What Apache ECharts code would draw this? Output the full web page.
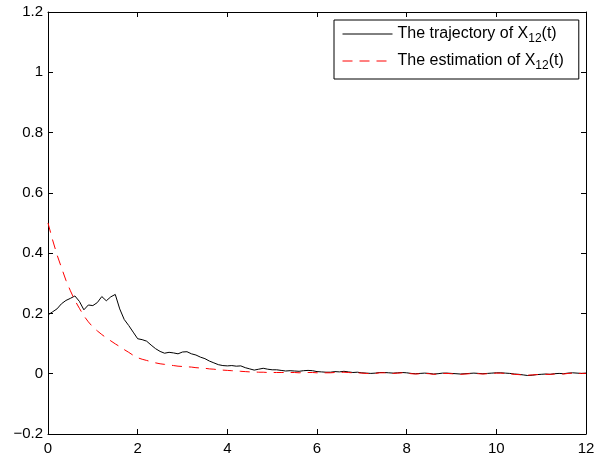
<!DOCTYPE html>
<html>
<head>
<meta charset="utf-8">
<script src="https://cdn.jsdelivr.net/npm/echarts@6/dist/echarts.min.js"></script>
<style>
html,body{margin:0;padding:0;background:#fff;}
#chart{width:605px;height:463px;}
</style>
</head>
<body>
<div id="chart"></div>
<script>
// time grid step (x sampling)
const tStep = 0.1;
const xTicks = [0, 2, 4, 6, 8, 10, 12];
const yTicks = [-0.2, 0, 0.2, 0.4, 0.6, 0.8, 1, 1.2];
const seriesNames = ['The trajectory of X{sub|12}(t)', 'The estimation of X{sub|12}(t)'];

// trajectory X12(t), t = 0.0 .. 12.0
const trajectory = [
  0.195, 0.205, 0.215, 0.232, 0.243, 0.250, 0.258, 0.240, 0.212, 0.228,
  0.226, 0.236, 0.256, 0.242, 0.255, 0.263, 0.215, 0.180, 0.160, 0.138,
  0.116, 0.113, 0.108, 0.095, 0.083, 0.074, 0.068, 0.071, 0.069, 0.066,
  0.072, 0.073, 0.066, 0.062, 0.055, 0.050, 0.042, 0.036, 0.030, 0.027,
  0.026, 0.027, 0.025, 0.026, 0.020, 0.016, 0.012, 0.015, 0.018, 0.015,
  0.013, 0.013, 0.011, 0.009, 0.010, 0.009, 0.008, 0.010, 0.011, 0.010,
  0.007, 0.006, 0.005, 0.005, 0.007, 0.006, 0.008, 0.006, 0.004, 0.005,
  0.003, 0.002, 0.001, 0.002, 0.004, 0.004, 0.003, 0.002, 0.003, 0.004,
  0.003, 0.001, 0.000, 0.001, 0.002, 0.001, -0.001, 0.000, 0.002, 0.002,
  0.001, 0.000, -0.001, 0.000, 0.001, 0.002, 0.001, 0.000, 0.001, 0.002,
  0.003, 0.003, 0.002, 0.001, -0.001, -0.002, -0.004, -0.006, -0.005, -0.003,
  -0.002, -0.001, -0.002, 0.000, 0.001, 0.000, 0.002, 0.003, 0.002, 0.001,
  0.002
];

// estimation of X12(t), t = 0.0 .. 12.0
const estimation = [
  0.500, 0.445, 0.395, 0.352, 0.310, 0.275, 0.243, 0.217, 0.192, 0.172,
  0.155, 0.142, 0.130, 0.119, 0.109, 0.099, 0.090, 0.080, 0.071, 0.061,
  0.053, 0.048, 0.044, 0.040, 0.036, 0.033, 0.031, 0.029, 0.027, 0.025,
  0.024, 0.023, 0.022, 0.020, 0.019, 0.018, 0.016, 0.015, 0.013, 0.012,
  0.011, 0.010, 0.009, 0.008, 0.007, 0.006, 0.006, 0.005, 0.005, 0.004,
  0.004, 0.004, 0.004, 0.004, 0.004, 0.004, 0.003, 0.004, 0.004, 0.004,
  0.003, 0.003, 0.003, 0.003, 0.004, 0.004, 0.005, 0.004, 0.003, 0.003,
  0.002, 0.001, 0.000, 0.001, 0.003, 0.003, 0.002, 0.001, 0.002, 0.003,
  0.002, 0.000, -0.001, 0.000, 0.001, 0.000, -0.002, -0.001, 0.001, 0.001,
  0.000, -0.001, -0.002, -0.001, 0.000, 0.001, 0.000, -0.001, 0.000, 0.001,
  0.002, 0.002, 0.001, 0.000, -0.002, -0.003, -0.004, -0.005, -0.004, -0.003,
  -0.002, -0.002, -0.002, -0.001, 0.000, -0.001, 0.001, 0.002, 0.001, 0.001,
  0.001
];

const pairs = arr => arr.map((v, i) => [+(i * tStep).toFixed(2), v]);

const FONT = 'Liberation Sans, Arial, sans-serif';
const fmtY = v => {
  const s = String(Math.round(v * 10) / 10);
  return s.replace('-', '\u2212');
};

const axisCommon = () => ({
  axisLine: {show: true, onZero: false, lineStyle: {color: '#000', width: 1}},
  axisTick: {show: true, inside: true, length: 5, lineStyle: {color: '#000', width: 1}},
  splitLine: {show: false}
});

const chart = echarts.init(document.getElementById('chart'), null, {renderer: 'canvas'});
chart.setOption({
  animation: false,
  backgroundColor: '#fff',
  grid: {left: 48, right: 19, top: 12, bottom: 29, containLabel: false},
  legend: {
    orient: 'vertical',
    left: 334,
    top: 20,
    padding: [6, 15, 7, 8],
    itemGap: 8,
    itemWidth: 50,
    itemHeight: 19,
    borderColor: '#000',
    borderWidth: 1,
    backgroundColor: '#fff',
    itemStyle: {opacity: 0},
    lineStyle: {width: 1},
    data: seriesNames,
    textStyle: {
      fontFamily: FONT, fontSize: 16, color: '#000',
      rich: {
        sub: {fontFamily: FONT, fontSize: 12, color: '#000', padding: [10, 0, 0, 0]}
      }
    }
  },
  xAxis: [
    Object.assign({
      type: 'value', position: 'bottom', min: 0, max: 12, interval: 2,
      axisLabel: {show: true, color: '#000', fontFamily: FONT, fontSize: 15, margin: 7,
        formatter: v => String(v)}
    }, axisCommon()),
    Object.assign({
      type: 'value', position: 'top', min: 0, max: 12, interval: 2,
      axisLabel: {show: false}
    }, axisCommon())
  ],
  yAxis: [
    Object.assign({
      type: 'value', position: 'left', min: -0.2, max: 1.2, interval: 0.2,
      axisLabel: {show: true, color: '#000', fontFamily: FONT, fontSize: 15, margin: 5,
        formatter: fmtY}
    }, axisCommon()),
    Object.assign({
      type: 'value', position: 'right', min: -0.2, max: 1.2, interval: 0.2,
      axisLabel: {show: false}
    }, axisCommon())
  ],
  series: [
    {
      name: seriesNames[0], type: 'line', xAxisIndex: 0, yAxisIndex: 0,
      data: pairs(trajectory), symbol: 'none', showSymbol: false, smooth: false,
      lineStyle: {color: '#000', width: 1}, itemStyle: {color: '#000'}, z: 2
    },
    {
      name: seriesNames[1], type: 'line', xAxisIndex: 0, yAxisIndex: 0,
      data: pairs(estimation), symbol: 'none', showSymbol: false, smooth: false,
      lineStyle: {color: '#ff0000', width: 1, type: [10, 7]}, itemStyle: {color: '#ff0000'}, z: 3
    }
  ]
});
</script>
</body>
</html>
